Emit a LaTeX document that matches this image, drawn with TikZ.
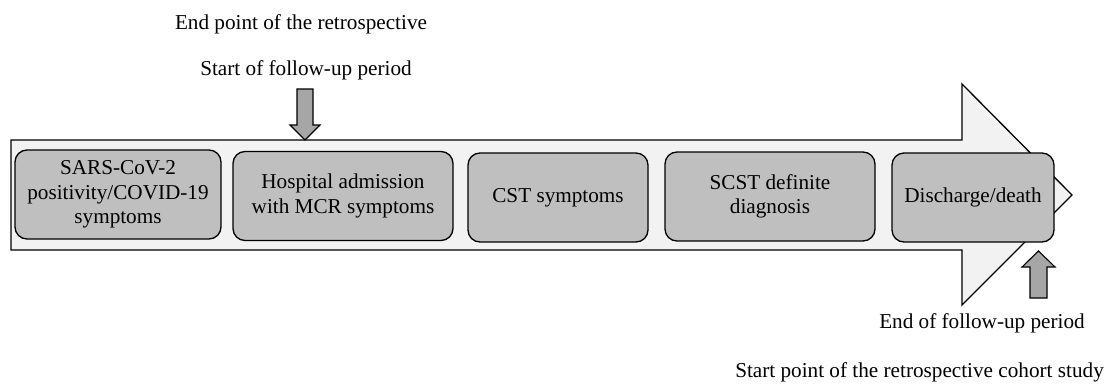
\documentclass[tikz,border=0pt]{standalone}
\usepackage{fontspec}
\setmainfont{Liberation Serif}
\definecolor{bodyfill}{HTML}{F2F2F2}
\definecolor{boxfill}{HTML}{BFBFBF}
\definecolor{markfill}{HTML}{A6A6A6}
\begin{document}
\begin{tikzpicture}[x=1pt,y=-1pt,
  evbox/.style={draw=black,line width=1.3pt,fill=boxfill,rounded corners=12pt,
    align=center,inner sep=0pt,minimum height=89pt,
    font=\fontsize{21.2}{24.5}\selectfont},
  lbl/.style={inner sep=0pt,font=\fontsize{21.2}{24.5}\selectfont},
  bigarrow/.style={draw=black,line width=1.3pt,fill=bodyfill,line join=miter},
  markarrow/.style={draw=black,line width=1.1pt,fill=markfill,line join=miter}]
\path[use as bounding box] (0,0) rectangle (1106,383);
% big timeline arrow
\draw[bigarrow] (11,140) -- (962,140) -- (962,84) -- (1072,195) -- (962,305)
  -- (962,250) -- (11,250) -- cycle;
% event boxes
\node[evbox,minimum width=206pt] (b1) at (118,194.5) {SARS-CoV-2\\positivity/COVID-19\\symptoms};
\node[evbox,minimum width=220pt] (b2) at (343,196) {Hospital admission\\with MCR symptoms};
\node[evbox,minimum width=180pt] (b3) at (558,197.5) {CST symptoms};
\node[evbox,minimum width=210pt] (b4) at (770,196.5) {SCST definite\\diagnosis};
\node[evbox,minimum width=162pt] (b5) at (973,197.5) {Discharge/death};
% labels
\node[lbl] (t1) at (301,24) {End point of the retrospective};
\node[lbl] (t2) at (306,70) {Start of follow-up period};
\node[lbl] (t3) at (982,323) {End of follow-up period};
\node[lbl,anchor=east] (t4) at (1104,372) {Start point of the retrospective cohort study};
% marker arrows
\draw[markarrow] (297,89) -- (313,89) -- (313,125) -- (320,125) -- (305,140)
  -- (290,125) -- (297,125) -- cycle;
\draw[markarrow] (1030,298) -- (1047,298) -- (1047,267) -- (1055,267) -- (1038.5,251)
  -- (1022,267) -- (1030,267) -- cycle;
\end{tikzpicture}
\end{document}
